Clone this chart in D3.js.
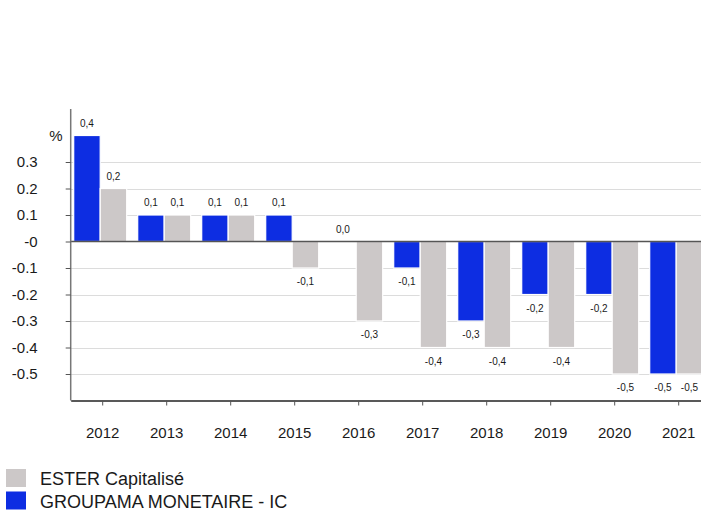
<!DOCTYPE html>
<html>
<head>
<meta charset="utf-8">
<script src="https://cdn.jsdelivr.net/npm/d3@7"></script>
<style>
  body { margin: 0; background: #fff; }
  text { font-family: "Liberation Sans", Arial, sans-serif; fill: #1a1a1a; }
</style>
</head>
<body>
<div id="chart"></div>
<script>
var years = ["2012", "2013", "2014", "2015", "2016", "2017", "2018", "2019", "2020", "2021"];
var groupama = [0.4, 0.1, 0.1, 0.1, 0.0, -0.1, -0.3, -0.2, -0.2, -0.5];
var ester = [0.2, 0.1, 0.1, -0.1, -0.3, -0.4, -0.4, -0.4, -0.5, -0.5];
var seriesNames = ["GROUPAMA MONETAIRE - IC", "ESTER Capitalisé"];
var yTicks = [-0.5, -0.4, -0.3, -0.2, -0.1, 0, 0.1, 0.2, 0.3];
var yTickLabels = ["-0.5", "-0.4", "-0.3", "-0.2", "-0.1", "-0", "0.1", "0.2", "0.3"];

var width = 701, height = 511;
var colors = { "GROUPAMA MONETAIRE - IC": "#0d2de2", "ESTER Capitalisé": "#ccc8c8" };

var svg = d3.select("#chart").append("svg")
    .attr("width", width)
    .attr("height", height);

var x = d3.scaleBand()
    .domain(years)
    .range([70.7, 710.7]);

var y = d3.scaleLinear()
    .domain([-0.6, 0.5])
    .range([400.5, 109]);

// inner offsets for the two bars of each year
var x1 = d3.scaleBand()
    .domain(seriesNames)
    .range([-29, 24]);

// gridlines
svg.append("g").selectAll("line")
    .data(yTicks.filter(function(d) { return d !== 0; }))
    .enter().append("line")
    .attr("x1", 71).attr("x2", width)
    .attr("y1", function(d) { return Math.round(y(d)) + 0.5; })
    .attr("y2", function(d) { return Math.round(y(d)) + 0.5; })
    .attr("stroke", "#dcdcdc")
    .attr("stroke-width", 1);

var rows = years.map(function(yr, i) {
    return { year: yr, values: [
        { name: seriesNames[0], value: groupama[i] },
        { name: seriesNames[1], value: ester[i] }
    ]};
});

var group = svg.append("g").selectAll("g")
    .data(rows)
    .enter().append("g")
    .attr("transform", function(d) { return "translate(" + (x(d.year) + x.bandwidth() / 2) + ",0)"; });

group.selectAll("rect")
    .data(function(d) { return d.values; })
    .enter().append("rect")
    .attr("x", function(d) { return x1(d.name); })
    .attr("width", x1.bandwidth())
    .attr("y", function(d) { return y(Math.max(0, d.value)); })
    .attr("height", function(d) { return Math.abs(y(d.value) - y(0)); })
    .attr("fill", function(d) { return colors[d.name]; })
    .attr("stroke", "#fff")
    .attr("stroke-width", 1.2);

group.selectAll("text")
    .data(function(d) { return d.values; })
    .enter().append("text")
    .attr("x", function(d) { return x1(d.name) + x1.bandwidth() / 2; })
    .attr("y", function(d) { return d.value >= 0 ? y(d.value) - 9 : y(d.value) + 17; })
    .attr("text-anchor", "middle")
    .style("font-size", "10px")
    .text(function(d) { return d3.format(".1f")(d.value).replace(".", ",").replace("−", "-"); });

// zero line
svg.append("line")
    .attr("x1", 71).attr("x2", width)
    .attr("y1", y(0)).attr("y2", y(0))
    .attr("stroke", "#555")
    .attr("stroke-width", 1.3);

// y axis
var yAxis = svg.append("g")
    .attr("transform", "translate(70.7,0)")
    .call(d3.axisLeft(y)
        .tickValues(yTicks)
        .tickSize(5)
        .tickPadding(28)
        .tickFormat(function(d, i) { return yTickLabels[i]; }));
yAxis.select(".domain").attr("stroke", "#777").attr("stroke-width", 1.5)
    .attr("d", "M0," + y(0.5) + "V" + y(-0.6));
yAxis.selectAll(".tick line").attr("stroke", "#555");
yAxis.selectAll(".tick text")
    .style("font-size", "15px")
    .style("font-family", "'Liberation Sans', Arial, sans-serif")
    .attr("fill", "#1a1a1a");

svg.append("text")
    .attr("x", 56)
    .attr("y", y(0.4) + 5)
    .attr("text-anchor", "middle")
    .style("font-size", "15px")
    .text("%");

// x axis
var xAxis = svg.append("g")
    .attr("transform", "translate(0," + y(-0.6) + ")")
    .call(d3.axisBottom(x).tickSize(5).tickPadding(22).tickSizeOuter(0));
xAxis.select(".domain").attr("stroke", "#222").attr("stroke-width", 1.3);
xAxis.selectAll(".tick line").attr("stroke", "#555");
xAxis.selectAll(".tick text")
    .style("font-size", "15px")
    .style("font-family", "'Liberation Sans', Arial, sans-serif")
    .attr("fill", "#1a1a1a");

// legend
var legendOrder = ["ESTER Capitalisé", "GROUPAMA MONETAIRE - IC"];
var legend = svg.append("g").selectAll("g")
    .data(legendOrder)
    .enter().append("g")
    .attr("transform", function(d, i) { return "translate(6," + (469 + i * 22.5) + ")"; });

legend.append("rect")
    .attr("width", 20)
    .attr("height", 18)
    .attr("fill", function(d) { return colors[d]; });

legend.append("text")
    .attr("x", 34)
    .attr("y", 16)
    .style("font-size", "18px")
    .text(function(d) { return d; });
</script>
</body>
</html>
